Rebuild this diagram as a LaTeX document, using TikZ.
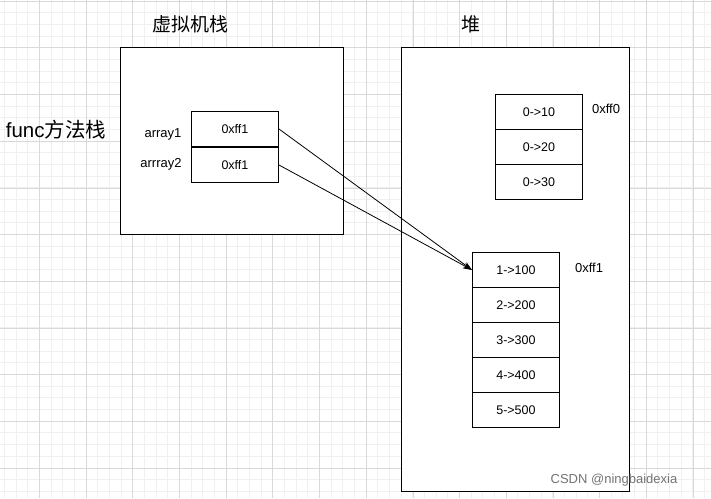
\documentclass[tikz,border=0pt]{standalone}
\usepackage{fontspec}
\usetikzlibrary{arrows.meta}
\setmainfont{Liberation Sans}
\newfontfamily\cjk{Noto Sans CJK SC}
\begin{document}
\begin{tikzpicture}[x=1pt,y=-1pt,
  cell/.style={draw,line width=0.9pt,minimum width=87pt,minimum height=35pt,inner sep=0pt,font=\fontsize{12.5}{14}\selectfont,anchor=north west},
  frame/.style={draw,line width=0.9pt},
  lbl/.style={font=\fontsize{13}{15}\selectfont},
  ttl/.style={font=\cjk\fontsize{19}{22}\selectfont},
  arr/.style={-{Stealth[length=9pt,width=6pt]},line width=0.8pt}]
\useasboundingbox (0,0) rectangle (711,498);
\fill[white] (0,0) rectangle (711,498);
\foreach \i in {0,...,61} \draw[black!6,line width=0.8pt] ({4.33+\i*11.67},0) -- ++(0,498);
\foreach \i in {0,...,43} \draw[black!6,line width=0.8pt] (0,{1.1+\i*11.67}) -- ++(711,0);
\foreach \i in {0,...,15} \draw[black!15,line width=0.8pt] ({-7.4+\i*46.7},0) -- ++(0,498);
\foreach \i in {0,...,11} \draw[black!15,line width=0.8pt] (0,{1.1+\i*46.7}) -- ++(711,0);
\node[frame,fill=white,minimum width=223pt,minimum height=187pt,anchor=north west] (vm) at (120,47) {};
\node[frame,fill=white,minimum width=228pt,minimum height=444pt,anchor=north west] (heap) at (401,47) {};
\node[ttl] (tvm) at (190,24) {虚拟机栈};
\node[ttl] (theap) at (471,24) {堆};
\node[font=\fontsize{20.5}{24}\selectfont] (func) at (56,130) {func{\cjk 方法栈}};
\node[cell] (s1) at (191,111) {0xff1};
\node[cell] (s2) at (191,147) {0xff1};
\node[lbl] (la1) at (163,134) {array1};
\node[lbl] (la2) at (161,164) {arrray2};
\node[cell] (h1) at (495,94) {0->10};
\node[cell] (h2) at (495,129) {0->20};
\node[cell] (h3) at (495,164) {0->30};
\node[lbl] (ff0) at (606,109) {0xff0};
\node[cell] (b1) at (472,252) {1->100};
\node[cell] (b2) at (472,287) {2->200};
\node[cell] (b3) at (472,322) {3->300};
\node[cell] (b4) at (472,357) {4->400};
\node[cell] (b5) at (472,392) {5->500};
\node[lbl] (ff1) at (589,268) {0xff1};
\draw[arr] (s1.east) -- (b1.west);
\draw[arr] (s2.east) -- (b1.west);
\node[font=\fontsize{13}{15}\selectfont,text=black!55] (wm) at (614,480) {CSDN @ningbaidexia};
\end{tikzpicture}
\end{document}
